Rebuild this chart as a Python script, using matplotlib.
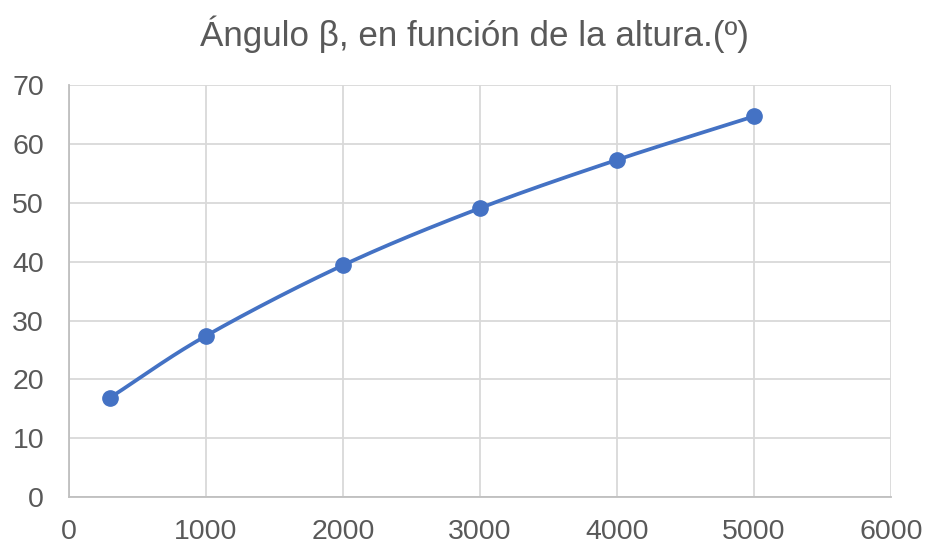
import numpy as np
import matplotlib
matplotlib.use("Agg")
import matplotlib.pyplot as plt

plt.rcParams['font.family'] = ['Liberation Sans', 'DejaVu Sans']

altura = [300, 1000, 2000, 3000, 4000, 5000]
angulo = [16.9, 27.4, 39.4, 49.1, 57.3, 64.7]
xticks = [0, 1000, 2000, 3000, 4000, 5000, 6000]
yticks = [0, 10, 20, 30, 40, 50, 60, 70]


def smooth(x, y, n=30):
    # Catmull-Rom curve through the points, like a smoothed line in a spreadsheet
    x = np.asarray(x, float)
    y = np.asarray(y, float)
    px = np.concatenate([[2 * x[0] - x[1]], x, [2 * x[-1] - x[-2]]])
    py = np.concatenate([[2 * y[0] - y[1]], y, [2 * y[-1] - y[-2]]])
    xs, ys = [], []
    t = np.linspace(0, 1, n)
    for i in range(1, len(px) - 2):
        for p, out in ((px, xs), (py, ys)):
            p0, p1, p2, p3 = p[i - 1], p[i], p[i + 1], p[i + 2]
            out.extend(0.5 * (2 * p1 + (-p0 + p2) * t
                              + (2 * p0 - 5 * p1 + 4 * p2 - p3) * t ** 2
                              + (-p0 + 3 * p1 - 3 * p2 + p3) * t ** 3))
    return xs, ys


fig = plt.figure(figsize=(9.28, 5.46), dpi=100)
ax = fig.add_axes([0.0744, 0.0897, 0.8856, 0.7543])

sx, sy = smooth(altura, angulo)
ax.plot(sx, sy, color='#4472C4', lw=2.7, solid_capstyle='round', zorder=3)
ax.plot(altura, angulo, 'o', color='#4472C4', markersize=11, zorder=4)

ax.set_xlim(0, 6000)
ax.set_ylim(0, 70)
ax.set_xticks(xticks)
ax.set_yticks(yticks)
ax.grid(True, color='#d9d9d9', lw=1.3)
ax.set_axisbelow(True)
for s in ['top', 'right']:
    ax.spines[s].set_visible(False)
for s in ['left', 'bottom']:
    ax.spines[s].set_color('#bfbfbf')
    ax.spines[s].set_linewidth(1.3)
ax.tick_params(length=0, labelsize=20.5, labelcolor='#595959')
ax.tick_params(axis='x', pad=16)
ax.tick_params(axis='y', pad=18)

fig.text(0.511, 0.938, 'Ángulo β, en función de la altura.(º)', ha='center',
         va='center', fontsize=25.2, color='#595959')

fig.savefig('out.png', dpi=100)
